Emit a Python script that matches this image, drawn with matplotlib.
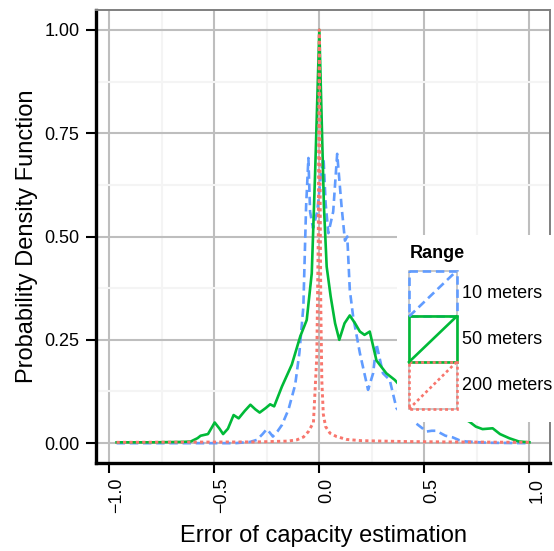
import matplotlib
matplotlib.use("Agg")
import matplotlib.pyplot as plt
from matplotlib.patches import Rectangle
from matplotlib.transforms import ScaledTranslation

plt.rcParams["font.family"] = ["Liberation Sans", "DejaVu Sans"]

# ---- data ----
x_10m = [-0.965, -0.40, -0.33, -0.297, -0.27, -0.25, -0.235, -0.221, -0.20, -0.178,
         -0.147, -0.115, -0.095, -0.076, -0.063, -0.052, -0.044, -0.03, -0.01, 0.01,
         0.02, 0.03, 0.043, 0.066, 0.085, 0.106, 0.122, 0.133, 0.145, 0.161,
         0.193, 0.232, 0.256, 0.272, 0.303, 0.335, 0.367, 0.40, 0.45, 0.493,
         0.509, 0.535, 0.556, 0.60, 0.635, 0.667, 0.699, 0.80, 1.0]
y_10m = [0.0, 0.0, 0.003, 0.008, 0.022, 0.034, 0.025, 0.016, 0.028, 0.044,
         0.081, 0.141, 0.218, 0.33, 0.572, 0.69, 0.56, 0.52, 0.56, 0.66,
         0.69, 0.58, 0.508, 0.56, 0.70, 0.572, 0.49, 0.50, 0.371, 0.306,
         0.218, 0.129, 0.169, 0.24, 0.169, 0.153, 0.085, 0.065, 0.052, 0.035,
         0.028, 0.03, 0.03, 0.018, 0.014, 0.007, 0.004, 0.001, 0.0]

x_50m = [-0.965, -0.80, -0.65, -0.612, -0.58, -0.565, -0.53, -0.498, -0.475, -0.458,
         -0.435, -0.408, -0.384, -0.355, -0.328, -0.305, -0.284, -0.255, -0.234, -0.215,
         -0.178, -0.131, -0.091, -0.06, -0.036, -0.02, 0.0, 0.022, 0.035, 0.054,
         0.075, 0.095, 0.12, 0.145, 0.17, 0.193, 0.215, 0.24, 0.272, 0.319,
         0.359, 0.40, 0.45, 0.50, 0.55, 0.60, 0.65, 0.714, 0.745, 0.777,
         0.825, 0.86, 0.904, 0.95, 1.0]
y_50m = [0.002, 0.002, 0.003, 0.004, 0.012, 0.018, 0.022, 0.05, 0.035, 0.022,
         0.035, 0.068, 0.06, 0.078, 0.093, 0.082, 0.074, 0.085, 0.094, 0.089,
         0.137, 0.19, 0.258, 0.298, 0.411, 0.654, 1.0, 0.572, 0.427, 0.355,
         0.29, 0.25, 0.29, 0.309, 0.29, 0.27, 0.262, 0.27, 0.20, 0.169,
         0.153, 0.13, 0.11, 0.10, 0.09, 0.08, 0.07, 0.052, 0.04, 0.034,
         0.036, 0.022, 0.012, 0.004, 0.002]

x_200m = [-0.965, -0.30, -0.15, -0.107, -0.075, -0.052, -0.028, -0.012, -0.005, 0.0,
          0.004, 0.007, 0.012, 0.019, 0.03, 0.051, 0.082, 0.13, 0.20, 0.40,
          0.60, 1.0]
y_200m = [0.002, 0.003, 0.005, 0.008, 0.015, 0.028, 0.05, 0.21, 0.5, 1.0,
          0.6, 0.33, 0.15, 0.07, 0.04, 0.024, 0.016, 0.009, 0.006, 0.004,
          0.003, 0.002]

series_labels = ["10 meters", "50 meters", "200 meters"]
colors = ["#619CFF", "#00BA38", "#F8766D"]
styles = [(0, (3.2, 1.8)), "-", (0, (1.1, 1.1))]

x_ticks = [-1.0, -0.5, 0.0, 0.5, 1.0]
y_ticks = [0.0, 0.25, 0.5, 0.75, 1.0]
y_ticklabels = ["0.00", "0.25", "0.50", "0.75", "1.00"]

W, H = 554, 551
fig = plt.figure(figsize=(W / 100, H / 100), dpi=100)
ax = fig.add_axes([96 / W, (H - 463) / H, (550 - 96) / W, (463 - 10) / H])

lw = 1.9
ax.plot(x_10m, y_10m, color=colors[0], linestyle=styles[0], lw=lw, zorder=3)
ax.plot(x_50m, y_50m, color=colors[1], linestyle=styles[1], lw=lw, zorder=4)
ax.plot(x_200m, y_200m, color=colors[2], linestyle=styles[2], lw=lw + 0.2, zorder=5)

ax.set_xlim(-1.063, 1.098)
ax.set_ylim(-0.048, 1.048)
ax.set_xticks(x_ticks)
ax.set_xticklabels(["−1.0", "−0.5", "0.0", "0.5", "1.0"], rotation=90, ha="left", va="top")
ax.set_yticks(y_ticks)
ax.set_yticklabels(y_ticklabels)
ax.set_xticks([-0.75, -0.25, 0.25, 0.75], minor=True)
ax.set_yticks([0.125, 0.375, 0.625, 0.875], minor=True)

ax.grid(which="major", color="#BEBEBE", lw=1.5, zorder=0)
ax.grid(which="minor", color="#F4F4F4", lw=1.5, zorder=0)
ax.set_axisbelow(True)
ax.tick_params(which="minor", length=0)
ax.tick_params(which="major", length=7, width=1.5, color="black",
               labelsize=13, labelcolor="black")
ax.tick_params(axis="y", pad=5)
ax.tick_params(axis="x", pad=3.5)

offset = ScaledTranslation(-1 / 100, 0, fig.dpi_scale_trans)
for lab in ax.get_xticklabels():
    lab.set_transform(lab.get_transform() + offset)

for side in ["left", "bottom"]:
    ax.spines[side].set_color("black")
    ax.spines[side].set_linewidth(2.4)
for side in ["top", "right"]:
    ax.spines[side].set_color("#7F7F7F")
    ax.spines[side].set_linewidth(1.4)

ax.set_xlabel("Error of capacity estimation", fontsize=17)
ax.set_ylabel("Probability Density Function", fontsize=17)
ax.xaxis.set_label_coords(0.5, -0.137)
ax.yaxis.set_label_coords(-0.128, 0.5)

# ---- legend drawn inside the panel, in pixel coordinates ----
lax = fig.add_axes([397 / W, (H - 422) / H, (W - 397) / W, (422 - 235) / H], zorder=10)
lax.set_xlim(397, W)
lax.set_ylim(422, 235)
lax.axis("off")
lax.add_patch(Rectangle((397, 235), W - 397, 187, facecolor="white", edgecolor="none"))
lax.text(410, 254, "Range", fontsize=13, fontweight="bold", va="center", ha="left")

key_left, key_right = 409, 456.5
key_edges = [271, 316.5, 362, 409]
for i, lab in enumerate(series_labels):
    top, bot = key_edges[i], key_edges[i + 1]
    lax.add_patch(Rectangle((key_left, top), key_right - key_left, bot - top,
                            facecolor="white", edgecolor="#C8C8C8", lw=1.4))
for i, lab in enumerate(series_labels):
    top, bot = key_edges[i], key_edges[i + 1]
    lax.add_patch(Rectangle((key_left, top), key_right - key_left, bot - top,
                            facecolor="none", edgecolor=colors[i],
                            linestyle=styles[i], lw=lw))
    lax.plot([key_left, key_right], [bot, top], color=colors[i],
             linestyle=styles[i], lw=lw)
    lax.text(462, (top + bot) / 2, lab, fontsize=13, va="center", ha="left")

fig.savefig("out.png", dpi=100)
